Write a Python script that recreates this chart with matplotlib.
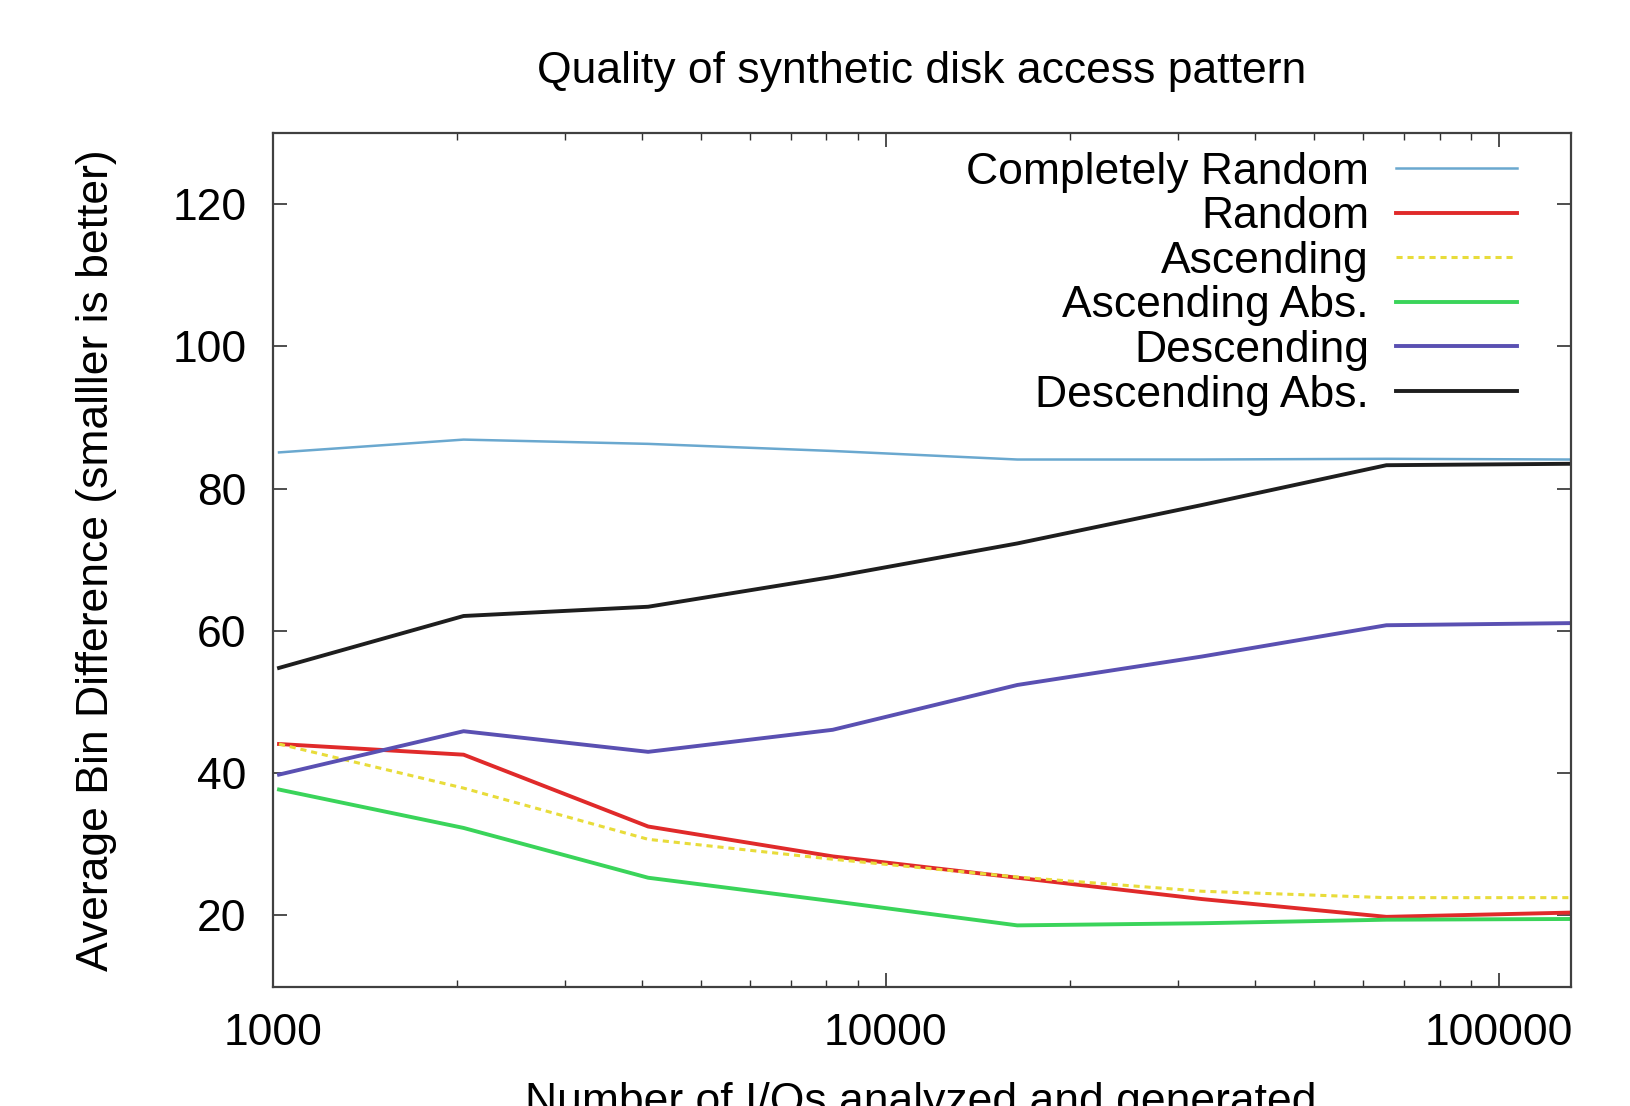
import matplotlib
matplotlib.use("Agg")
import matplotlib.pyplot as plt
from matplotlib.ticker import LogLocator, FixedLocator, NullFormatter, FixedFormatter

# ---- data ----
x_ios = [1024, 2048, 4096, 8192, 16384, 32768, 65536, 131072]
completely_random = [85.1, 86.9, 86.3, 85.3, 84.1, 84.1, 84.2, 84.1]
random_vals = [44.1, 42.6, 32.5, 28.3, 25.3, 22.3, 19.8, 20.4]
ascending = [44.1, 37.9, 30.7, 27.9, 25.4, 23.4, 22.5, 22.5]
ascending_abs = [37.7, 32.3, 25.3, 22.0, 18.6, 18.9, 19.4, 19.5]
descending = [39.8, 45.9, 43.0, 46.1, 52.4, 56.4, 60.8, 61.1]
descending_abs = [54.8, 62.1, 63.4, 67.6, 72.3, 77.7, 83.3, 83.5]

series_labels = ["Completely Random", "Random", "Ascending",
                 "Ascending Abs.", "Descending", "Descending Abs."]
x_ticks = [1000, 10000, 100000]
x_tick_labels = ["1000", "10000", "100000"]
y_ticks = [20, 40, 60, 80, 100, 120]

plt.rcParams['font.family'] = ['Liberation Sans', 'DejaVu Sans']
FS = 32

fig = plt.figure(figsize=(16.31, 11.06), dpi=100)
ax = fig.add_axes([0.1672, 0.108, 0.9632 - 0.1672, 0.8797 - 0.108])

ax.plot(x_ios, completely_random, color='#6aa8cf', lw=1.8, label=series_labels[0])
ax.plot(x_ios, random_vals, color='#e02a2a', lw=2.8, label=series_labels[1])
ax.plot(x_ios, ascending, color='#e8dc3a', lw=2.2, ls=(0, (2.0, 1.6)), label=series_labels[2])
ax.plot(x_ios, ascending_abs, color='#3ad45a', lw=2.8, label=series_labels[3])
ax.plot(x_ios, descending, color='#5a50b2', lw=2.8, label=series_labels[4])
ax.plot(x_ios, descending_abs, color='#1e1e1e', lw=2.8, label=series_labels[5])

ax.set_xscale('log')
ax.set_xlim(1000, 131072)
ax.set_ylim(10, 130)

ax.xaxis.set_major_locator(FixedLocator(x_ticks))
ax.xaxis.set_major_formatter(FixedFormatter(x_tick_labels))
ax.xaxis.set_minor_locator(LogLocator(base=10, subs=range(2, 10)))
ax.xaxis.set_minor_formatter(NullFormatter())
ax.set_yticks(y_ticks)
ax.set_yticklabels([str(v) for v in y_ticks])

ax.tick_params(axis='both', which='major', direction='in', length=10, width=1.2,
               color='#303030', labelsize=FS, pad=19, top=True, right=True)
ax.tick_params(axis='x', which='minor', direction='in', length=5, width=1.0,
               color='#303030', top=True, bottom=True)
ax.tick_params(axis='y', which='minor', left=False, right=False)

for s in ax.spines.values():
    s.set_linewidth(1.6)
    s.set_color('#404040')

ax.set_title("Quality of synthetic disk access pattern", fontsize=FS, pad=36)
ax.set_ylabel("Average Bin Difference (smalller is better)", fontsize=FS, labelpad=40)
fig.text(0.5648, -0.007, "Number of I/Os analyzed and generated", fontsize=FS,
         ha='center', va='baseline')

leg = ax.legend(loc='upper right', bbox_to_anchor=(0.9584, 0.978), frameon=False,
                fontsize=FS, markerfirst=False, handlelength=2.72, handletextpad=0.61,
                labelspacing=0.08, borderpad=0, borderaxespad=0)

fig.savefig("out.png", dpi=100)
